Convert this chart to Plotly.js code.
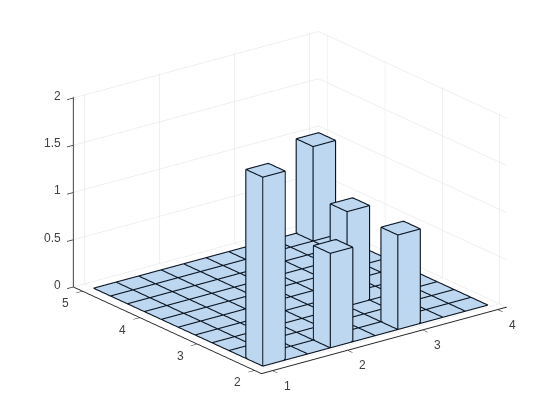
<!DOCTYPE html>
<html><head><meta charset="utf-8">
<script src="https://cdn.plot.ly/plotly-3.0.1.min.js"></script>
<style>html,body{margin:0;padding:0;background:#fff}#c{width:560px;height:420px}</style></head>
<body><div id="c"></div>
<script>
var xEdges=[1,1.3,1.6,1.9,2.2,2.5,2.8,3.1,3.4,3.7,4];
var yEdges=[2.05,2.345,2.64,2.935,3.23,3.525,3.82,4.115,4.41,4.705,5];
var heights=[
[2,0,0,1,0,0,1,0,0,0],
[0,0,0,0,0,0,0,0,0,0],
[0,0,0,0,0,0,0,0,0,0],
[0,0,0,0,0,0,1,0,0,0],
[0,0,0,0,0,0,0,0,0,0],
[0,0,0,0,0,0,0,0,0,0],
[0,0,0,0,0,0,0,0,0,0],
[0,0,0,0,0,0,0,0,0,0],
[0,0,0,0,0,0,0,0,0,0],
[0,0,0,0,0,0,0,0,0,1]];
var xTicks=[1,2,3,4], yTicks=[2,3,4,5], zTicks=[0,0.5,1,1.5,2];
var zTickText=['0','0.5','1','1.5','2'];
var xRange=[0.853,4.12], yRange=[1.88,5.16], zRange=[0,2.012];
var barColor='#bdd7f0';
var aspect={x:1.53,y:1.53,z:1.006};
var az=37.5*Math.PI/180,el=20.7*Math.PI/180,r=2;
var view={x:-Math.sin(az)*Math.cos(el),y:-Math.cos(az)*Math.cos(el),z:Math.sin(el)};
// edges sit a hair nearer the camera than the faces, along the line of sight
var lift=0.015;
var dx=lift*view.x*(xRange[1]-xRange[0])/aspect.x, dy=lift*view.y*(yRange[1]-yRange[0])/aspect.y, dz=lift*view.z*(zRange[1]-zRange[0])/aspect.z;

var vx=[],vy=[],vz=[],ti=[],tj=[],tk=[],lx=[],ly=[],lz=[];
function seg(a,b){lx.push(a[0]+dx,b[0]+dx,null);ly.push(a[1]+dy,b[1]+dy,null);lz.push(a[2]+dz,b[2]+dz,null);}
heights.forEach(function(row,j){row.forEach(function(h,i){
  var x0=xEdges[i],x1=xEdges[i+1],y0=yEdges[j],y1=yEdges[j+1];
  var n=vx.length;
  [[x0,y0],[x1,y0],[x1,y1],[x0,y1]].forEach(function(p){vx.push(p[0]);vy.push(p[1]);vz.push(0);});
  [[x0,y0],[x1,y0],[x1,y1],[x0,y1]].forEach(function(p){vx.push(p[0]);vy.push(p[1]);vz.push(h);});
  ti.push(n+4,n+4);tj.push(n+5,n+6);tk.push(n+6,n+7);
  for(var s=0;s<4;s++){var t=(s+1)%4;
    if(h>0){ti.push(n+s,n+s);tj.push(n+t,n+t+4);tk.push(n+t+4,n+s+4);}
    seg([vx[n+s],vy[n+s],h],[vx[n+t],vy[n+t],h]);
    if(h>0){seg([vx[n+s],vy[n+s],0],[vx[n+t],vy[n+t],0]);
            seg([vx[n+s],vy[n+s],0],[vx[n+s],vy[n+s],h]);}
  }
});});

var tickFont={family:'Liberation Sans, Arial',size:12,color:'#404040'};
var ann=[];
xTicks.forEach(function(t){ann.push({x:t,y:yRange[0],z:0,text:String(t),showarrow:false,font:tickFont,xanchor:'center',yanchor:'middle',xshift:15,yshift:-15});});
yTicks.forEach(function(t){ann.push({x:xRange[0],y:t,z:0,text:String(t),showarrow:false,font:tickFont,xanchor:'center',yanchor:'middle',xshift:-17,yshift:-12});});
zTicks.forEach(function(t,i){ann.push({x:xRange[0],y:yRange[1],z:t,text:zTickText[i],showarrow:false,font:tickFont,xanchor:'right',yanchor:'middle',xshift:-10,yshift:2});});

var mesh={type:'mesh3d',x:vx,y:vy,z:vz,i:ti,j:tj,k:tk,color:barColor,flatshading:true,
  lighting:{ambient:1,diffuse:0,specular:0,roughness:1,fresnel:0},hoverinfo:'skip',showscale:false};
var edges={type:'scatter3d',mode:'lines',x:lx,y:ly,z:lz,line:{color:'#0a1420',width:2.2},hoverinfo:'skip',showlegend:false,connectgaps:false};
var axBase={showbackground:false,showspikes:false,zeroline:false,showline:true,linecolor:'#262626',linewidth:2,
  gridcolor:'#e2e2e2',gridwidth:1,ticks:'outside',ticklen:8,tickwidth:1.5,tickcolor:'#262626',showticklabels:false,title:{text:''},autorange:false,tickmode:'array'};
var layout={width:560,height:420,margin:{l:0,r:0,t:0,b:0},paper_bgcolor:'#fff',showlegend:false,
 scene:{domain:{x:[20/560,1],y:[16/420,1]},aspectmode:'manual',aspectratio:aspect,annotations:ann,
  xaxis:Object.assign({},axBase,{range:xRange,tickvals:xTicks}),
  yaxis:Object.assign({},axBase,{range:yRange,tickvals:yTicks}),
  zaxis:Object.assign({},axBase,{range:zRange,tickvals:zTicks}),
  camera:{projection:{type:'orthographic'},up:{x:0,y:0,z:1},center:{x:0,y:0,z:0},
   eye:{x:r*view.x,y:r*view.y,z:r*view.z}}}};
Plotly.newPlot('c',[mesh,edges],layout,{displayModeBar:false});
</script></body></html>
